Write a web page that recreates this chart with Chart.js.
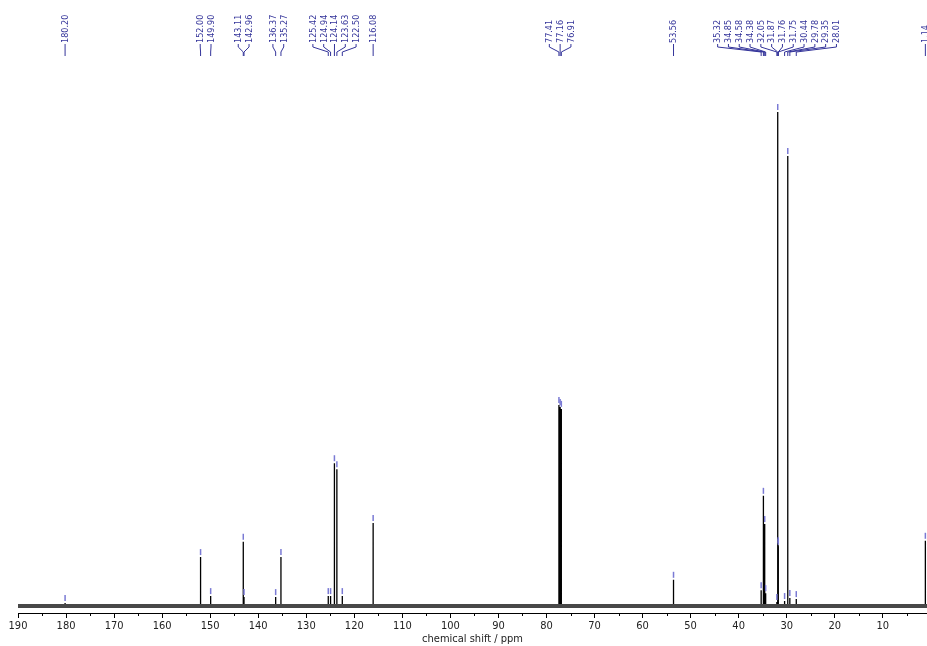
<!DOCTYPE html>
<html>
<head>
<meta charset="utf-8">
<script src="https://cdn.jsdelivr.net/npm/chart.js@4.4.1/dist/chart.umd.min.js"></script>
<style>
  html, body { margin: 0; padding: 0; background: #fff; }
  canvas { display: block; }
</style>
</head>
<body>
<canvas id="nmr" width="927" height="646"></canvas>
<script>
// peak list (ppm) and heights (tallest = 100)
const shifts = [180.20, 152.00, 149.90, 143.11, 142.96, 136.37, 135.27, 125.42, 124.94, 124.14,
  123.63, 122.50, 116.08, 77.41, 77.16, 76.91, 53.56, 35.32, 34.85, 34.58, 34.38, 32.05,
  31.87, 31.76, 31.75, 30.44, 29.78, 29.35, 28.01, 1.14];
const heights = [0.6, 9.9, 2.0, 13.0, 1.8, 1.8, 9.9, 2.0, 2.0, 28.9,
  27.7, 2.0, 16.8, 40.7, 40.3, 39.9, 5.3, 3.2, 22.3, 16.6, 2.6, 0.8,
  100, 12.3, 12.0, 1.0, 91.1, 1.6, 1.4, 13.2];
const labels = ["180.20", "152.00", "149.90", "143.11", "142.96", "136.37", "135.27", "125.42", "124.94", "124.14",
  "123.63", "122.50", "116.08", "77.41", "77.16", "76.91", "53.56", "35.32", "34.85", "34.58", "34.38", "32.05",
  "31.87", "31.76", "31.75", "30.44", "29.78", "29.35", "28.01", "1.14"];
const tickValues = [190, 185, 180, 175, 170, 165, 160, 155, 150, 145, 140, 135, 130, 125, 120, 115, 110, 105,
  100, 95, 90, 85, 80, 75, 70, 65, 60, 55, 50, 45, 40, 35, 30, 25, 20, 15, 10, 5];
const axisRange = [0.8, 190];

const FONT = '"DejaVu Sans Condensed", "Liberation Sans", sans-serif';
const LABEL_COLOR = '#34349a';

// vertical stick for every peak, broken with nulls
const peakPoints = [];
shifts.forEach((s, i) => {
  peakPoints.push({ x: s, y: 0 }, { x: s, y: heights[i] }, { x: s, y: null });
});

// spread overlapping labels evenly around the mean of their peaks
function spreadLabels(xs, gap) {
  let clusters = xs.map((x, i) => ({ start: x, n: 1, sum: x, idx: [i] }));
  let merged = true;
  while (merged) {
    merged = false;
    for (let i = 0; i < clusters.length - 1; i++) {
      const a = clusters[i], b = clusters[i + 1];
      const aEnd = a.start + (a.n - 1) * gap;
      if (b.start - aEnd < gap) {
        const n = a.n + b.n, sum = a.sum + b.sum;
        clusters.splice(i, 2, { start: sum / n - (n - 1) * gap / 2, n, sum, idx: a.idx.concat(b.idx) });
        merged = true;
        break;
      }
    }
  }
  const out = [];
  clusters.forEach(c => c.idx.forEach((id, k) => { out[id] = c.start + k * gap; }));
  return out;
}

const peakLabels = {
  id: 'peakLabels',
  afterDatasetsDraw(chart) {
    const { ctx, scales: { x, y } } = chart;
    // small markers above each peak
    ctx.save();
    ctx.strokeStyle = '#7a7ad4';
    ctx.lineWidth = 1.5;
    shifts.forEach((s, i) => {
      const px = x.getPixelForValue(s), py = y.getPixelForValue(heights[i]);
      ctx.beginPath();
      ctx.moveTo(px, py - 8);
      ctx.lineTo(px, py - 2);
      ctx.stroke();
    });
    ctx.restore();
  },
  afterDraw(chart) {
    const { ctx, scales: { x } } = chart;
    // short minor ticks (the odd fives)
    ctx.save();
    ctx.strokeStyle = '#000';
    ctx.lineWidth = 1;
    tickValues.filter(v => v % 10 !== 0).forEach(v => {
      const tx = Math.round(x.getPixelForValue(v)) + 0.5;
      ctx.beginPath();
      ctx.moveTo(tx, x.top);
      ctx.lineTo(tx, x.top + 3);
      ctx.stroke();
    });
    ctx.restore();

    // sort by pixel so the spreading works left to right
    const order = shifts.map((s, i) => i).sort((a, b) => x.getPixelForValue(shifts[a]) - x.getPixelForValue(shifts[b]));
    const pxs = order.map(i => x.getPixelForValue(shifts[i]));
    const lxs = spreadLabels(pxs, 10.8);
    ctx.save();
    ctx.strokeStyle = LABEL_COLOR;
    ctx.fillStyle = LABEL_COLOR;
    ctx.lineWidth = 1;
    ctx.font = '9px ' + FONT;
    order.forEach((i, k) => {
      const px = pxs[k], lx = lxs[k];
      ctx.beginPath();
      ctx.moveTo(lx, 44);
      ctx.lineTo(lx, 47);
      ctx.lineTo(px, 52);
      ctx.lineTo(px, 56);
      ctx.stroke();
      ctx.save();
      ctx.translate(lx, 43);
      ctx.rotate(-Math.PI / 2);
      ctx.textAlign = 'left';
      ctx.textBaseline = 'middle';
      ctx.fillText(labels[i], 0, 0.5);
      ctx.restore();
    });
    ctx.restore();
  }
};

new Chart(document.getElementById('nmr'), {
  type: 'line',
  data: {
    datasets: [
      {
        // baseline noise band
        data: [{ x: axisRange[1], y: 0 }, { x: axisRange[0], y: 0 }],
        borderColor: '#484848',
        borderWidth: 4,
        pointRadius: 0
      },
      {
        data: peakPoints,
        borderColor: '#000',
        borderWidth: 1.3,
        pointRadius: 0,
        spanGaps: false
      }
    ]
  },
  options: {
    responsive: false,
    animation: false,
    events: [],
    layout: { padding: { left: 18, right: 0, top: 70, bottom: 0 } },
    plugins: { legend: { display: false }, tooltip: { enabled: false } },
    scales: {
      x: {
        type: 'linear',
        reverse: true,
        min: axisRange[0],
        max: axisRange[1],
        afterBuildTicks: s => { s.ticks = tickValues.map(v => ({ value: v })); },
        afterFit: s => { s.height = 33; s.paddingLeft = 0; s.paddingRight = 0; },
        grid: {
          drawOnChartArea: false,
          drawTicks: true,
          tickLength: 5,
          color: '#000',
          tickColor: c => (c.tick && c.tick.value % 10 === 0 ? '#000' : 'rgba(0,0,0,0)')
        },
        border: { display: true, color: '#000', width: 1 },
        ticks: {
          autoSkip: false,
          maxRotation: 0,
          padding: 2,
          color: '#222',
          font: { family: FONT, size: 11 },
          callback: v => (v % 10 === 0 ? String(v) : '')
        },
        title: {
          display: true,
          text: 'chemical shift / ppm',
          padding: 0,
          color: '#222',
          font: { family: FONT, size: 11 }
        }
      },
      y: { display: false, min: -1.42, max: 108.5 }
    }
  },
  plugins: [peakLabels]
});
</script>
</body>
</html>
